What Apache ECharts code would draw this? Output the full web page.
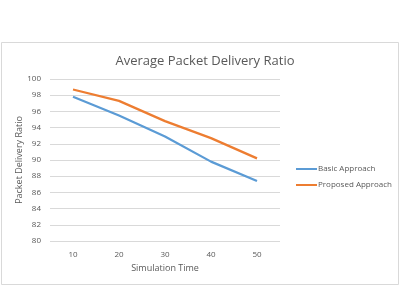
<!DOCTYPE html>
<html lang="en">
<head>
    <meta charset="UTF-8">
    <title>Average Packet Delivery Ratio</title>
    <script src="https://cdn.jsdelivr.net/npm/echarts@6/dist/echarts.min.js"></script>
    <style>
        html, body { margin: 0; padding: 0; background: #fff; }
    </style>
</head>
<body>
    <div id="main" style="width: 406px;height:290px;"></div>
    <script>
        // data
        const simTimes = ['10', '20', '30', '40', '50'];
        const basicApproach = [97.8, 95.5, 92.9, 89.8, 87.4];
        const proposedApproach = [98.7, 97.3, 94.8, 92.7, 90.2];

        var myChart = echarts.init(document.getElementById('main'));
        const txt = '#595959';
        const font = 'Open Sans';

        var option = {
            animation: false,
            textStyle: { fontFamily: font },
            graphic: [{
                type: 'rect',
                shape: { x: 1.5, y: 42.5, width: 397, height: 242 },
                style: { fill: '#fff', stroke: '#d9d9d9', lineWidth: 1 },
                z: -10
            }],
            title: {
                text: 'Average Packet Delivery Ratio',
                left: 200,
                textAlign: 'center',
                top: 50,
                textStyle: { fontFamily: font, fontSize: 13, fontWeight: 'normal', color: txt }
            },
            legend: {
                orient: 'vertical',
                left: 291,
                top: 160,
                itemWidth: 21,
                itemHeight: 2,
                itemGap: 8,
                icon: 'rect',
                textStyle: { fontFamily: font, fontSize: 8, color: txt, padding: [0, 0, 0, -4] },
                data: ['Basic Approach', 'Proposed Approach']
            },
            grid: { left: 50, right: 126, top: 79, bottom: 49 },
            xAxis: {
                type: 'category',
                data: simTimes,
                name: 'Simulation Time',
                nameLocation: 'middle',
                nameGap: 20,
                nameTextStyle: { fontFamily: font, fontSize: 9, color: txt },
                axisLine: { show: false },
                axisTick: { show: false },
                axisLabel: { fontFamily: font, fontSize: 8, color: txt, margin: 10 }
            },
            yAxis: {
                type: 'value',
                min: 80,
                max: 100,
                interval: 2,
                name: 'Packet Delivery Ratio',
                nameLocation: 'middle',
                nameGap: 26,
                nameMoveOverlap: false,
                nameTextStyle: { fontFamily: font, fontSize: 9, color: txt },
                axisLine: { show: false },
                axisTick: { show: false },
                axisLabel: { fontFamily: font, fontSize: 8, color: txt, margin: 9 },
                splitLine: { lineStyle: { color: '#d9d9d9', width: 1 } }
            },
            series: [{
                name: 'Basic Approach',
                type: 'line',
                data: basicApproach,
                symbol: 'none',
                color: '#5b9bd5',
                lineStyle: { width: 2.25, color: '#5b9bd5' }
            }, {
                name: 'Proposed Approach',
                type: 'line',
                data: proposedApproach,
                symbol: 'none',
                color: '#ed7d31',
                lineStyle: { width: 2.25, color: '#ed7d31' }
            }]
        };

        myChart.setOption(option);
    </script>
</body>
</html>
